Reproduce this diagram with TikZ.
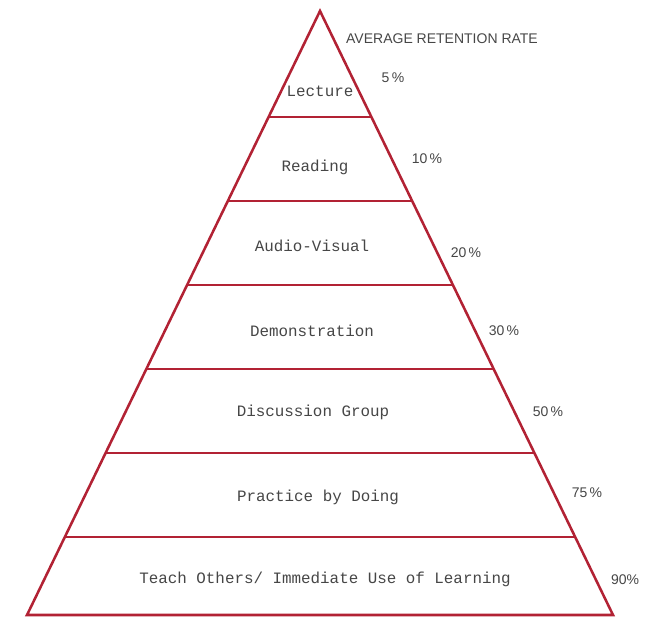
\documentclass[tikz,border=0pt]{standalone}
\usepackage{fontspec}
\setmainfont{Liberation Sans}
\newfontfamily\monof{Liberation Mono}
\usetikzlibrary{calc}
\definecolor{pyr}{RGB}{178,34,52}
\definecolor{txt}{RGB}{70,70,70}
\begin{document}
\begin{tikzpicture}[x=0.75pt,y=-0.75pt,
  edge/.style={draw=pyr,line width=1.9pt,line join=miter},
  tier/.style={font=\monof\fontsize{11.9}{12}\selectfont,text=txt,inner sep=0},
  pct/.style={font=\fontsize{10.5}{11}\selectfont,text=txt,inner sep=0}]
\useasboundingbox (0,0) rectangle (652,618);
\coordinate (apex) at (320,11);
\coordinate (bl) at (27,615);
\coordinate (br) at (613,615);
\draw[edge] (bl) -- (apex) -- (br) -- cycle;
\foreach \t in {0.1755,0.3146,0.4536,0.5927,0.7318,0.8709}
  \draw[edge] ($(apex)!\t!(bl)$) -- ($(apex)!\t!(br)$);
\node[tier] (l1) at (320,91) {Lecture};
\node[tier] (l2) at (315,167) {Reading};
\node[tier] (l3) at (312,246) {Audio-Visual};
\node[tier] (l4) at (312,331) {Demonstration};
\node[tier] (l5) at (313,412) {Discussion Group};
\node[tier] (l6) at (318,497) {Practice by Doing};
\node[tier] (l7) at (325,579) {Teach Others/ Immediate Use of Learning};
\node[pct] (title) at (442,39) {AVERAGE RETENTION RATE};
\node[pct] (p1) at (393,78) {5\,\%};
\node[pct] (p2) at (427,159) {10\,\%};
\node[pct] (p3) at (466,253) {20\,\%};
\node[pct] (p4) at (504,331) {30\,\%};
\node[pct] (p5) at (548,412) {50\,\%};
\node[pct] (p6) at (587,493) {75\,\%};
\node[pct] (p7) at (625,580) {90\%};
\end{tikzpicture}
\end{document}
